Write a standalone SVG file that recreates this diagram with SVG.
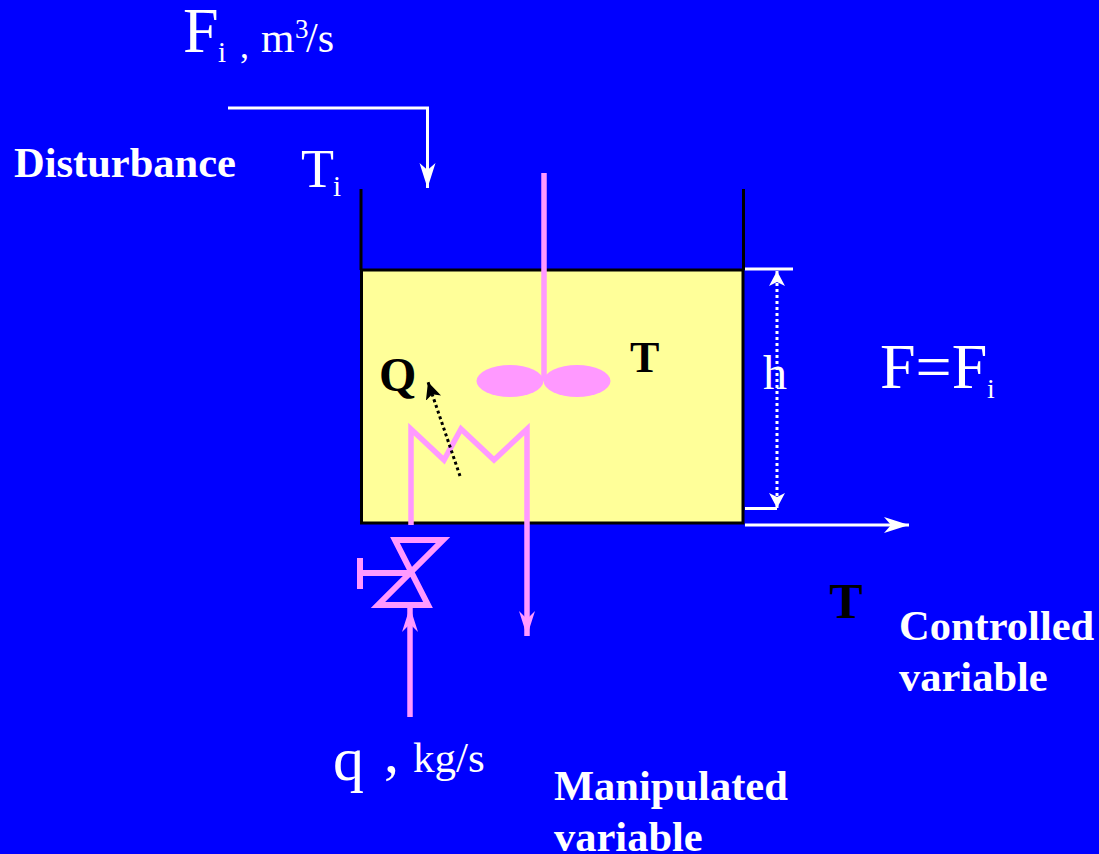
<svg xmlns="http://www.w3.org/2000/svg" width="1099" height="854" viewBox="0 0 1099 854">
<style>
text{font-family:"Liberation Serif","Times New Roman",serif}
.w{fill:#fff}.k{fill:#000}.b{font-weight:bold}
.wl{fill:none;stroke:#fff;stroke-width:3}
.pl{fill:none;stroke:#f9f;stroke-width:5.500}
.kl{fill:none;stroke:#000;stroke-width:3}
</style>
<defs>
<marker id="aw" markerUnits="userSpaceOnUse" markerWidth="28" markerHeight="20" refX="25" refY="8" orient="auto"><path d="M0 0L25 8L0 16L7 8Z" fill="#fff"/></marker>
<marker id="as" markerUnits="userSpaceOnUse" markerWidth="20" markerHeight="20" refX="15" refY="8" orient="auto-start-reverse"><path d="M0 0L15 8L0 16L4 8Z" fill="#fff"/></marker>
<marker id="ap" markerUnits="userSpaceOnUse" markerWidth="28" markerHeight="20" refX="25" refY="8" orient="auto"><path d="M0 0L25 8L0 16L8 8Z" fill="#f9f"/></marker>
<marker id="ak" markerUnits="userSpaceOnUse" markerWidth="24" markerHeight="20" refX="17" refY="8" orient="auto"><path d="M0 0L17 8L0 16L4 8Z" fill="#000"/></marker>
</defs>
<rect width="1099" height="854" fill="#00f"/>
<g id="tank">
<rect x="361.500" y="270" width="381.500" height="253" fill="#ff9" stroke="#000" stroke-width="3"/>
<path class="kl" d="M361 189V270M743.500 189V270"/>
</g>
<g id="agitator">
<ellipse cx="510" cy="381" rx="33.500" ry="16" fill="#f9f"/>
<ellipse cx="577" cy="381" rx="33.500" ry="16" fill="#f9f"/>
<path class="pl" d="M544 173V381"/>
</g>
<g id="coil">
<path class="pl" d="M411 525V429L444 460L461 429L494 460L527 429V525"/>
</g>
<g id="valve">
<path class="pl" style="stroke-width:6" d="M395 540H443L378 605H428ZM361 573H410M360 558V589"/>
</g>
<g id="connectors">
<path class="wl" d="M228 108H427.500V188" marker-end="url(#aw)"/>
<path class="wl" d="M745 525H909" marker-end="url(#aw)"/>
<path class="wl" d="M745 269H793M745 508.500H777"/>
<path fill="none" stroke="#fff" stroke-width="3" stroke-dasharray="3 3" d="M777 271V508" marker-start="url(#as)" marker-end="url(#as)"/>
<path class="pl" d="M527 525V636" marker-end="url(#ap)"/>
<path class="pl" d="M410 717V607" marker-end="url(#ap)"/>
<path fill="none" stroke="#000" stroke-width="3" stroke-dasharray="3 3" d="M460 476L428 382" marker-end="url(#ak)"/>
</g>
<g id="labels">
<text class="w" x="183" y="52" font-size="64">F</text>
<text class="w" x="218" y="62" font-size="29">i</text>
<text class="w" x="240" y="58" font-size="36">,</text>
<text class="w" x="261" y="52" font-size="43">m</text>
<text class="w" x="295" y="38" font-size="27">3</text>
<text class="w" x="306" y="52" font-size="42">/s</text>
<text class="w b" x="14" y="176.500" font-size="42.500">Disturbance</text>
<text class="w" x="301" y="187" font-size="54">T</text>
<text class="w" x="333" y="195.500" font-size="29">i</text>
<text class="k b" x="379" y="391" font-size="48">Q</text>
<text class="k b" x="630" y="372" font-size="44">T</text>
<text class="w" x="763" y="389" font-size="48">h</text>
<text class="w" x="880" y="388" font-size="64">F=F</text>
<text class="w" x="987" y="398" font-size="28">i</text>
<text class="k b" x="829" y="618" font-size="50">T</text>
<text class="w b" x="899" y="640" font-size="42.500">Controlled</text>
<text class="w b" x="899" y="691" font-size="42.500">variable</text>
<text class="w" x="333" y="780" font-size="62">q</text>
<text class="w" x="384" y="772" font-size="60">,</text>
<text class="w" x="413" y="772" font-size="43">kg/s</text>
<text class="w b" x="554" y="800" font-size="42.500">Manipulated</text>
<text class="w b" x="554" y="851" font-size="42.500">variable</text>
</g>
</svg>
